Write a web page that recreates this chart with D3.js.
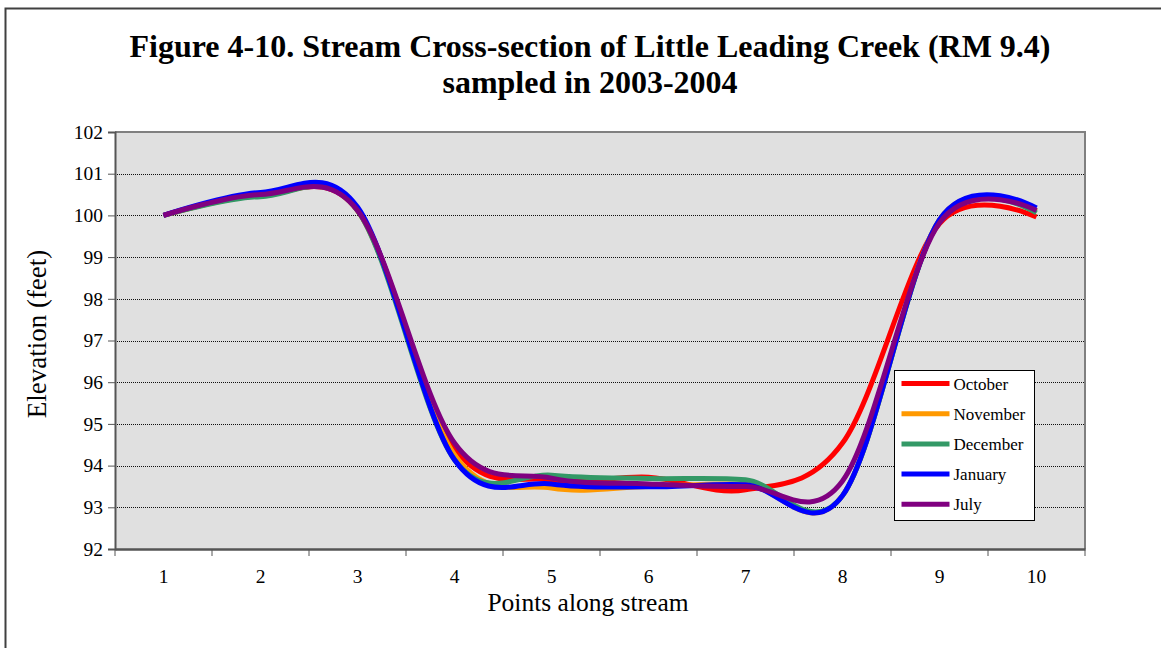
<!DOCTYPE html>
<html>
<head>
<meta charset="utf-8">
<script src="https://cdn.jsdelivr.net/npm/d3@7"></script>
<style>
  html, body { margin: 0; padding: 0; background: #ffffff; }
  svg { display: block; }
  text { font-family: "Liberation Serif", "Times New Roman", serif; fill: #000; }
</style>
</head>
<body>
<svg id="chart" width="1161" height="648"></svg>
<script>
// Survey points along the cross-section
const points = [1, 2, 3, 4, 5, 6, 7, 8, 9, 10];

// Elevation (feet) at each point, per sampling month
const october  = [100.00, 100.48, 100.12, 94.42, 93.66, 93.72, 93.42, 94.54, 99.80, 99.96];
const november = [100.00, 100.47, 100.12, 94.26, 93.46, 93.50, 93.55, 93.28, 99.90, 100.10];
const december = [100.00, 100.45, 100.12, 94.14, 93.77, 93.69, 93.66, 93.28, 99.88, 100.06];
const january  = [100.00, 100.55, 100.20, 94.14, 93.56, 93.49, 93.54, 93.28, 99.90, 100.18];
const july     = [100.00, 100.50, 100.12, 94.54, 93.70, 93.56, 93.50, 93.63, 99.82, 100.12];

const seriesNames = ["October", "November", "December", "January", "July"];
const seriesValues = [october, november, december, january, july];
const seriesColors = ["#ff0000", "#ff9900", "#339966", "#0000ff", "#800080"];

const yTicks = [92, 93, 94, 95, 96, 97, 98, 99, 100, 101, 102];

const titleLines = [
  "Figure 4-10. Stream Cross-section of Little Leading Creek (RM 9.4)",
  "sampled in 2003-2004"
];

const svg = d3.select("#chart");
const W = 1161, H = 648;

// Outer figure frame
svg.append("rect")
  .attr("x", 5.5).attr("y", 8.5)
  .attr("width", W + 20).attr("height", H + 20)
  .attr("fill", "#ffffff")
  .attr("stroke", "#404040")
  .attr("stroke-width", 2);

// Title
svg.append("g").selectAll("text")
  .data(titleLines)
  .join("text")
  .attr("x", 590)
  .attr("y", (d, i) => 57 + i * 36)
  .attr("text-anchor", "middle")
  .attr("font-size", 32)
  .attr("font-weight", "bold")
  .text(d => d);

const plot = { left: 115, right: 1085, top: 132, bottom: 549 };

const x = d3.scaleBand()
  .domain(points)
  .range([plot.left, plot.right]);

const y = d3.scaleLinear()
  .domain([92, 102])
  .range([plot.bottom, plot.top]);

// Plot area background
svg.append("rect")
  .attr("x", plot.left).attr("y", plot.top)
  .attr("width", plot.right - plot.left)
  .attr("height", plot.bottom - plot.top)
  .attr("fill", "#e0e0e0");

// Horizontal dotted gridlines
svg.append("g")
  .selectAll("line")
  .data(yTicks.filter(v => v > 92 && v < 102))
  .join("line")
  .attr("x1", plot.left).attr("x2", plot.right)
  .attr("y1", d => Math.round(y(d)) + 0.5)
  .attr("y2", d => Math.round(y(d)) + 0.5)
  .attr("stroke", "#101010")
  .attr("stroke-width", 1.2)
  .attr("stroke-dasharray", "1,1");

// Plot border (top and right)
svg.append("path")
  .attr("d", `M${plot.left},${plot.top}H${plot.right}V${plot.bottom}`)
  .attr("fill", "none")
  .attr("stroke", "#808080")
  .attr("stroke-width", 2);

// Lines, smoothed through the surveyed points
const line = d3.line()
  .x((d, i) => x(points[i]) + x.bandwidth() / 2)
  .y(d => y(d))
  .curve(d3.curveCardinal.tension(0));

svg.append("g")
  .selectAll("path")
  .data(seriesValues)
  .join("path")
  .attr("d", d => line(d))
  .attr("fill", "none")
  .attr("stroke", (d, i) => seriesColors[i])
  .attr("stroke-width", 5)
  .attr("stroke-linejoin", "round")
  .attr("stroke-linecap", "butt");

// Y axis
const yAxis = d3.axisLeft(y)
  .tickValues(yTicks)
  .tickSize(7)
  .tickPadding(5)
  .tickFormat(d3.format("d"));

const gy = svg.append("g")
  .attr("transform", `translate(${plot.left},0)`)
  .call(yAxis);
gy.select(".domain").attr("stroke", "#555").attr("stroke-width", 2);
gy.selectAll(".tick line").attr("stroke", "#555").attr("stroke-width", 1);
gy.selectAll(".tick text")
  .attr("font-family", "Liberation Serif, serif")
  .attr("font-size", 19.5)
  .attr("fill", "#000");

// X axis: ticks between categories, labels centred in each band
const xAxis = d3.axisBottom(x)
  .tickSize(0)
  .tickPadding(20);

const gx = svg.append("g")
  .attr("transform", `translate(0,${plot.bottom})`)
  .call(xAxis);
gx.select(".domain").attr("stroke", "#555").attr("stroke-width", 2.5);
gx.selectAll(".tick text")
  .attr("font-family", "Liberation Serif, serif")
  .attr("font-size", 19.5)
  .attr("fill", "#000");

const boundaries = points.map(p => x(p)).concat([plot.right]);
svg.append("g")
  .selectAll("line")
  .data(boundaries)
  .join("line")
  .attr("x1", d => d).attr("x2", d => d)
  .attr("y1", plot.bottom).attr("y2", plot.bottom + 7)
  .attr("stroke", "#555")
  .attr("stroke-width", 1);

// Axis titles
svg.append("text")
  .attr("x", 588).attr("y", 611)
  .attr("text-anchor", "middle")
  .attr("font-size", 25.5)
  .text("Points along stream");

svg.append("text")
  .attr("transform", "translate(46,334) rotate(-90)")
  .attr("text-anchor", "middle")
  .attr("font-size", 27)
  .text("Elevation (feet)");

// Legend
const legend = svg.append("g").attr("transform", "translate(894.5,370.5)");
legend.append("rect")
  .attr("width", 140).attr("height", 150)
  .attr("fill", "#ffffff")
  .attr("stroke", "#000")
  .attr("stroke-width", 1);

const items = legend.selectAll("g.item")
  .data(seriesNames)
  .join("g")
  .attr("class", "item")
  .attr("transform", (d, i) => `translate(0,${13 + i * 30.2})`);

items.append("line")
  .attr("x1", 7).attr("x2", 55)
  .attr("stroke", (d, i) => seriesColors[i])
  .attr("stroke-width", 5);

items.append("text")
  .attr("x", 59).attr("y", 6)
  .attr("font-size", 17)
  .text(d => d);
</script>
</body>
</html>
